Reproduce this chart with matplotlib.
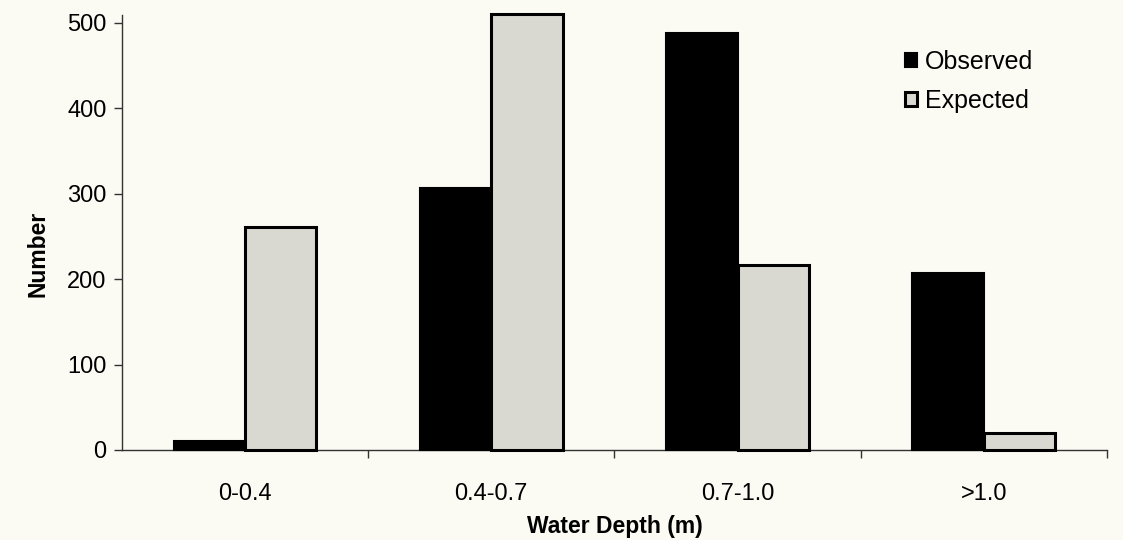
import matplotlib
matplotlib.use('Agg')
import matplotlib.pyplot as plt
import numpy as np

# Counts by water depth class
depth_classes = ['0-0.4', '0.4-0.7', '0.7-1.0', '>1.0']
observed = [10, 307, 488, 207]
expected = [261, 510, 217, 20]

plt.rcParams['font.family'] = ['Liberation Sans', 'DejaVu Sans']
bg = '#fbfbf3'

fig = plt.figure(figsize=(11.23, 5.40), dpi=100, facecolor=bg)
ax = fig.add_axes([0.1086, 0.1667, 0.877, 0.8056], facecolor=bg)

x = np.arange(len(depth_classes))
w = 0.29
ax.bar(x - w / 2, observed, w, color='black', edgecolor='black',
       linewidth=1.5, label='Observed', clip_on=False, zorder=3)
ax.bar(x + w / 2, expected, w, color='#d9d9d2', edgecolor='black',
       linewidth=2.2, label='Expected', clip_on=False, zorder=3)

ax.set_xlim(-0.5, 3.5)
ax.set_ylim(0, 509)
ax.set_yticks([0, 100, 200, 300, 400, 500])
ax.set_xticks(x)
ax.set_xticklabels(depth_classes)
ax.set_xticks([0.5, 1.5, 2.5, 3.5], minor=True)
ax.tick_params(axis='x', which='major', length=0, pad=24, labelsize=17)
ax.tick_params(axis='x', which='minor', length=6, width=1, color='#333333')
ax.tick_params(axis='y', length=6, width=1, color='#333333', labelsize=17, pad=5)

for side in ('top', 'right'):
    ax.spines[side].set_visible(False)
for side in ('left', 'bottom'):
    ax.spines[side].set_linewidth(1)
    ax.spines[side].set_color('#333333')

ax.set_xlabel('Water Depth (m)', fontsize=16.5, fontweight='bold', labelpad=7)
ax.set_ylabel('Number', fontsize=16.5, fontweight='bold')
ax.yaxis.set_label_coords(-0.074, 0.45)

ax.legend(loc='upper left', bbox_to_anchor=(0.772, 0.972), frameon=False,
          fontsize=18, handlelength=0.5, handleheight=0.5,
          handletextpad=0.3, labelspacing=0.62)

fig.savefig('out.png', dpi=100, facecolor=bg)
